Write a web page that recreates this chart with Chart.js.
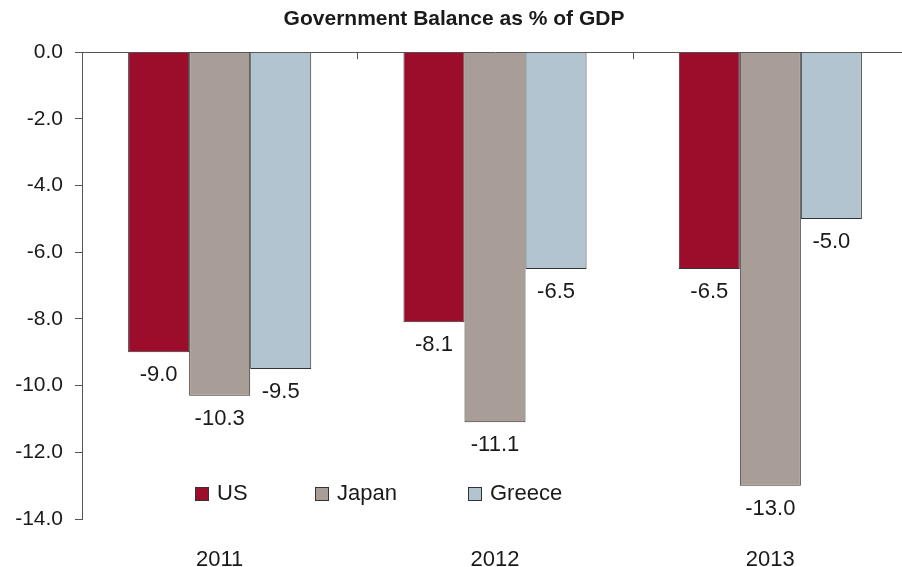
<!DOCTYPE html>
<html>
<head>
<meta charset="utf-8">
<script src="https://cdn.jsdelivr.net/npm/chart.js@4"></script>
<style>
  html, body { margin: 0; padding: 0; background: #fff; overflow: hidden; }
  #wrap { width: 908px; height: 567px; }
</style>
</head>
<body>
<div id="wrap"><canvas id="grafico" width="908" height="567"></canvas></div>
<script>
// dados
const anos = ["2011", "2012", "2013"];
const paises = ["US", "Japan", "Greece"];
const valoresUS = [-9.0, -8.1, -6.5];
const valoresJapan = [-10.3, -11.1, -13.0];
const valoresGreece = [-9.5, -6.5, -5.0];
const ticksY = [0, -2, -4, -6, -8, -10, -12, -14];

const cores = ["#9c0d2c", "#a89e97", "#b3c4d1"];
const fonte = "'Liberation Sans', Arial, sans-serif";
const corTexto = "#1a1a1a";

// rótulos de valor abaixo de cada barra
const rotulosPlugin = {
    id: "rotulos",
    afterDatasetsDraw(chart) {
        const ctx = chart.ctx;
        ctx.save();
        ctx.font = "22px " + fonte;
        ctx.fillStyle = corTexto;
        ctx.textAlign = "center";
        ctx.textBaseline = "middle";
        chart.data.datasets.forEach((ds, i) => {
            chart.getDatasetMeta(i).data.forEach((bar, j) => {
                ctx.fillText(ds.data[j].toFixed(1), bar.x, bar.y + 23);
            });
        });
        ctx.restore();
    }
};

// pequenas marcas entre as categorias, na linha do topo
const marcasPlugin = {
    id: "marcas",
    afterDraw(chart) {
        const x = chart.scales.x;
        const top = chart.chartArea.top;
        const ctx = chart.ctx;
        ctx.save();
        ctx.strokeStyle = "#555";
        ctx.lineWidth = 1;
        for (let i = 0; i < anos.length - 1; i++) {
            const px = Math.round((x.getPixelForValue(i) + x.getPixelForValue(i + 1)) / 2) + 0.5;
            ctx.beginPath();
            ctx.moveTo(px, top);
            ctx.lineTo(px, top + 7);
            ctx.stroke();
        }
        ctx.restore();
    }
};

// legenda dentro da área do gráfico
const legendaPlugin = {
    id: "legendaInterna",
    afterDraw(chart) {
        const ctx = chart.ctx;
        const posX = [195, 315, 468];
        const cy = 494;
        ctx.save();
        ctx.font = "22px " + fonte;
        ctx.textBaseline = "middle";
        chart.data.datasets.forEach((ds, i) => {
            ctx.fillStyle = ds.backgroundColor;
            ctx.fillRect(posX[i] + 0.5, cy - 6.5, 13, 13);
            ctx.strokeStyle = "#333";
            ctx.lineWidth = 1;
            ctx.strokeRect(posX[i] + 0.5, cy - 6.5, 13, 13);
            ctx.fillStyle = corTexto;
            ctx.fillText(ds.label, posX[i] + 22, cy);
        });
        ctx.restore();
    }
};

const serie = (label, data, cor) => ({
    label: label,
    data: data,
    backgroundColor: cor,
    borderColor: "#333",
    borderWidth: 1,
    categoryPercentage: 0.665,
    barPercentage: 1.0,
    xAxisID: "x"
});

new Chart(document.getElementById("grafico"), {
    type: "bar",
    data: {
        labels: anos,
        datasets: [
            serie(paises[0], valoresUS, cores[0]),
            serie(paises[1], valoresJapan, cores[1]),
            serie(paises[2], valoresGreece, cores[2])
        ]
    },
    options: {
        responsive: false,
        animation: false,
        layout: { padding: 0 },
        plugins: {
            legend: { display: false },
            tooltip: { enabled: false },
            title: {
                display: true,
                text: "Government Balance as % of GDP",
                color: corTexto,
                font: { family: fonte, size: 21, weight: "bold" },
                padding: { top: 7, bottom: 0 }
            }
        },
        scales: {
            x: {
                position: "bottom",
                grid: { display: false },
                border: { display: false },
                ticks: { color: corTexto, font: { family: fonte, size: 22 }, padding: 20 },
                afterFit: (s) => { s.height = 48; }
            },
            xTopo: {
                position: "top",
                type: "category",
                labels: anos,
                grid: { display: false },
                ticks: { display: false },
                border: { display: true, color: "#555", width: 1 },
                afterFit: (s) => { s.height = 20; }
            },
            y: {
                min: -14,
                max: 0,
                afterBuildTicks: (s) => { s.ticks = ticksY.map(v => ({ value: v })); },
                grid: { drawOnChartArea: false, tickLength: 7, color: "#555" },
                border: { display: true, color: "#555", width: 1 },
                ticks: {
                    color: corTexto,
                    font: { family: fonte, size: 21 },
                    padding: 12,
                    callback: (v) => v.toFixed(1)
                },
                afterFit: (s) => { s.width = 82; }
            }
        }
    },
    plugins: [rotulosPlugin, marcasPlugin, legendaPlugin]
});
</script>
</body>
</html>
